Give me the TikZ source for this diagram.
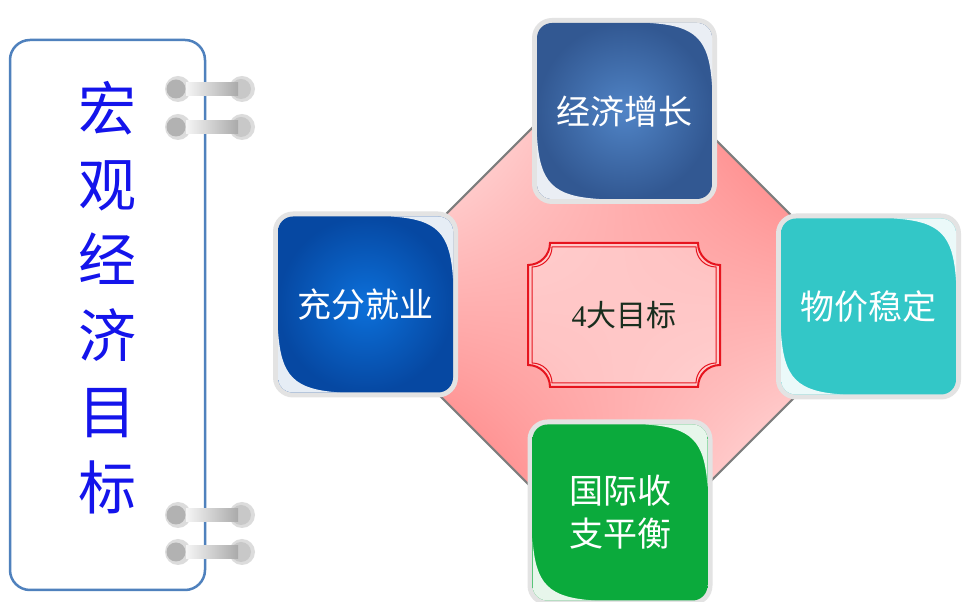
\documentclass[tikz,border=0pt]{standalone}
\usepackage{fontspec}
\setmainfont{Liberation Serif}
\newfontfamily\cjk{Noto Sans CJK SC}
\usetikzlibrary{shapes.geometric,shadings}
\definecolor{panelblue}{RGB}{79,129,189}
\definecolor{titleblue}{RGB}{20,20,235}
\definecolor{ringlight}{RGB}{220,220,220}
\definecolor{ringmid}{RGB}{178,178,178}
\definecolor{ringmidb}{RGB}{200,200,200}
\definecolor{barlight}{RGB}{245,245,245}
\definecolor{bardark}{RGB}{170,170,170}
\definecolor{octlight}{RGB}{255,228,228}
\definecolor{octdark}{RGB}{255,122,122}
\definecolor{octline}{RGB}{125,125,125}
\definecolor{framered}{RGB}{230,20,30}
\definecolor{goaldark}{RGB}{25,45,30}
\definecolor{boxgray}{RGB}{227,227,227}
\definecolor{topin}{RGB}{80,132,198}
\definecolor{topout}{RGB}{50,88,146}
\definecolor{leftin}{RGB}{12,112,218}
\definecolor{leftout}{RGB}{6,72,162}
\definecolor{tealbox}{RGB}{51,199,199}
\definecolor{greenbox}{RGB}{11,170,60}
\tikzset{
  panelbox/.style={draw=panelblue, line width=2.5pt, rounded corners=20pt,
    minimum width=195pt, minimum height=550pt, inner sep=0pt},
  titletext/.style={font=\cjk\fontsize{58}{75.7}\selectfont, text=titleblue, align=center, inner sep=0pt},
  octagon/.style={regular polygon, regular polygon sides=8, minimum size=407pt, inner sep=0pt,
    draw=octline, line width=2pt, shade,
    upper left=octlight, upper right=octdark, lower left=octdark, lower right=octlight},
  goaltext/.style={font=\fontsize{30}{36}\selectfont, text=goaldark, inner sep=0pt},
  hilite/.style={fill=white, fill opacity=0.9},
  boxframe/.style={fill=boxgray, rounded corners=20pt},
  boxtext/.style={minimum width=185pt, minimum height=186pt, inner sep=0pt, text=white,
    align=center, font=\cjk\fontsize{34}{43}\selectfont},
}
\newcommand{\drawgoalbox}[6]{%
  \begin{scope}[shift={(#2,#3)}]
    \fill[boxframe] (-92.5,-93) rectangle (92.5,93);
    \begin{scope}
      \clip[rounded corners=15pt] (-87.5,-88) rectangle (87.5,88);
      \shade[inner color=#4, outer color=#5] (-87.5,-88) rectangle (87.5,88);
      \fill[hilite] (25.5,91) -- (91,91) -- (91,26) -- (87.5,26)
        .. controls (84.5,72) and (71.5,85) .. (25.5,88) -- cycle;
      \fill[hilite] (-25.5,-91) -- (-91,-91) -- (-91,-26) -- (-87.5,-26)
        .. controls (-84.5,-72) and (-71.5,-85) .. (-25.5,-88) -- cycle;
    \end{scope}
    \node[boxtext] (#1) at (0,0) {#6};
  \end{scope}}
\begin{document}
\begin{tikzpicture}[x=1pt,y=1pt]
\useasboundingbox (0,0) rectangle (967,602);
\fill[white] (0,0) rectangle (967,602);

% left panel
\node[panelbox] (panel) at (107.5,287) {};
\node[titletext] (title) at (107,304.5) {宏\\观\\经\\济\\目\\标};
\foreach \yy in {513,475,87,50}{
  \fill[ringlight] (178,\yy) circle[radius=13];
  \fill[ringmid] (176,\yy) circle[radius=9.5];
  \fill[ringlight] (242,\yy) circle[radius=13];
  \fill[ringmidb] (241,\yy) circle[radius=10];
  \shade[left color=barlight, right color=bardark] (186,\yy-6.5) rectangle (238,\yy+6.5);
}

% octagon
\node[octagon] (oct) at (618,294) {};

% central frame
\coordinate (goalc) at (624,287);
\begin{scope}[shift={(goalc)}]
  \path[fill=white, fill opacity=0.3, draw=framered, line width=2pt]
    (-74,72) -- (74,72) arc[start angle=180, end angle=270, radius=22]
    -- (96,-50) arc[start angle=90, end angle=180, radius=22]
    -- (-74,-72) arc[start angle=0, end angle=90, radius=22]
    -- (-96,50) arc[start angle=270, end angle=360, radius=22] -- cycle;
  \draw[framered, line width=1pt]
    (-72,68) -- (72,68) arc[start angle=180, end angle=270, radius=20]
    -- (92,-48) arc[start angle=90, end angle=180, radius=20]
    -- (-72,-68) arc[start angle=0, end angle=90, radius=20]
    -- (-92,48) arc[start angle=270, end angle=360, radius=20] -- cycle;
\end{scope}
\node[goaltext] (goal) at (goalc) {4{\cjk 大目标}};

% goal boxes
\drawgoalbox{grow}{624.5}{491}{topin}{topout}{经济增长}
\drawgoalbox{jobs}{365.5}{297.5}{leftin}{leftout}{充分就业}
\drawgoalbox{price}{868.5}{295.5}{tealbox}{tealbox}{物价稳定}
\drawgoalbox{trade}{620}{89.5}{greenbox}{greenbox}{国际收\\支平衡}
\end{tikzpicture}
\end{document}
